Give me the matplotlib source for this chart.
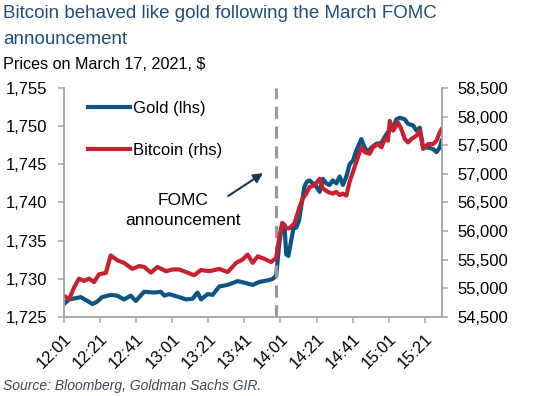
import matplotlib
matplotlib.use('Agg')
import matplotlib.pyplot as plt
from matplotlib.lines import Line2D

plt.rcParams['font.family'] = ['Liberation Sans', 'DejaVu Sans']

# minutes after 12:01
gold_min = [0, 2.8, 9.3, 13, 15.7, 18.3, 21.1, 26, 29.4, 33.3,
            37, 39.8, 44.4, 50, 53.7, 55.6, 58.3, 63.9, 67.6, 71.3,
            74, 76, 79.6, 82.4, 86.1, 90.7, 96.3, 100, 104.6, 108.3,
            113, 115.7, 117.6, 119.4, 121, 122.2, 123.2, 124.4, 126, 127.2,
            128.7, 130.2, 131.5, 133.3, 134.6, 136.1, 138, 139.8, 141.7, 143.5,
            145.4, 147.2, 149, 151, 152.8, 154.6, 156.5, 158.3, 160.2, 162,
            164.8, 166.7, 168.5, 170.4, 173.2, 176, 177.8, 180.6, 182.4, 184.3,
            186.1, 188.9, 190.7, 193.5, 195.4, 197.2, 199.1, 201.8, 204.6, 206.5,
            208.3, 209.3]
gold = [1726.7, 1727.3, 1727.6, 1727.1, 1726.7, 1727.0, 1727.6, 1727.9, 1727.8, 1727.3,
        1727.8, 1727.1, 1728.3, 1728.2, 1728.3, 1727.8, 1728.0, 1727.6, 1727.3, 1727.4,
        1728.2, 1727.3, 1728.0, 1727.9, 1729.0, 1729.2, 1729.7, 1729.5, 1729.2, 1729.6,
        1729.8, 1730.0, 1730.4, 1734.7, 1737.3, 1737.1, 1733.2, 1733.0, 1735.1, 1736.6,
        1736.7, 1737.5, 1739.5, 1742.1, 1742.7, 1742.9, 1742.5, 1742.1, 1741.4, 1743.1,
        1742.5, 1742.3, 1742.9, 1742.5, 1743.4, 1742.3, 1743.4, 1745.0, 1745.5, 1746.8,
        1748.3, 1747.2, 1746.6, 1747.2, 1747.7, 1747.8, 1748.6, 1749.6, 1749.8, 1750.9,
        1751.1, 1750.9, 1750.3, 1750.1, 1749.4, 1749.8, 1747.2, 1747.2, 1747.0, 1746.6,
        1747.2, 1748.1]

btc_min = [0, 2.8, 5.6, 8.3, 11.1, 13.9, 16.7, 19.4, 23.2, 25.9,
           29.6, 33.3, 37.9, 41.7, 44.4, 48.2, 51.8, 56.5, 60.2, 63.9,
           67.6, 72.2, 75.9, 80.6, 86.1, 90.7, 95.4, 99, 101.8, 104.6,
           107.4, 111.1, 114.8, 117.6, 119.4, 121, 123.2, 125, 127.8, 130.6,
           132.4, 134.3, 136.1, 138.9, 141.7, 143.5, 146.3, 149, 151, 152.8,
           154.6, 156.5, 158.3, 162, 164.8, 166.7, 169.4, 171.3, 174.1, 176,
           177.8, 179.6, 180.6, 182.4, 185.2, 187, 188.9, 190.7, 192.6, 195.4,
           197.2, 199.1, 201.8, 204.6, 206.5, 208.3, 209.3]
bitcoin = [54870, 54810, 55015, 55170, 55130, 55170, 55110, 55245, 55270, 55575,
           55490, 55445, 55340, 55390, 55375, 55275, 55375, 55300, 55330, 55330,
           55285, 55230, 55320, 55300, 55340, 55285, 55445, 55505, 55590, 55445,
           55560, 55515, 55460, 55530, 55905, 56140, 56050, 56050, 56140, 56425,
           56570, 56655, 56770, 56800, 56915, 56745, 56685, 56655, 56685, 56630,
           56655, 56620, 56860, 57205, 57465, 57380, 57350, 57465, 57520, 57465,
           57610, 57580, 57925, 57755, 57895, 57780, 57610, 57550, 57610, 57665,
           57755, 57435, 57520, 57520, 57580, 57725, 57780]

tick_min = [0, 20, 40, 60, 80, 100, 120, 140, 160, 180, 200]
tick_labels = ['12:01', '12:21', '12:41', '13:01', '13:21', '13:41',
               '14:01', '14:21', '14:41', '15:01', '15:21']
fomc_min = 117.5

gold_color = '#0b5584'
btc_color = '#c7202e'
spine_color = '#a6a6a6'

fig = plt.figure(figsize=(5.54, 3.96), dpi=100)
ax = fig.add_axes([0.1155, 0.1995, 0.6832, 0.5783])
ax2 = ax.twinx()

ax.plot(gold_min, gold, color=gold_color, lw=3)
ax2.plot(btc_min, bitcoin, color=btc_color, lw=3)
ax.axvline(fomc_min, color='#999999', lw=2.2, dashes=(4, 2.5))

ax.set_xlim(0, 209.8)
ax.set_ylim(1725, 1755)
ax2.set_ylim(54500, 58500)
ax.set_yticks(range(1725, 1756, 5))
ax2.set_yticks(range(54500, 58501, 500))
ax.yaxis.set_major_formatter(matplotlib.ticker.StrMethodFormatter('{x:,.0f}'))
ax2.yaxis.set_major_formatter(matplotlib.ticker.StrMethodFormatter('{x:,.0f}'))
ax.set_xticks(tick_min)
ax.set_xticklabels(tick_labels, rotation=45, ha='right', va='top', rotation_mode='anchor')

for a in (ax, ax2):
    a.spines['top'].set_visible(False)
    for s in ('left', 'right', 'bottom'):
        a.spines[s].set_color(spine_color)
        a.spines[s].set_linewidth(1.1)
    a.tick_params(colors=spine_color, labelcolor='black', labelsize=12, width=1.1, length=4)
ax.tick_params(axis='y', pad=8)
ax2.tick_params(axis='y', pad=7)
ax.tick_params(axis='x', pad=6)

handles = [Line2D([], [], color=gold_color, lw=3), Line2D([], [], color=btc_color, lw=3)]
ax2.legend(handles, ['Gold (lhs)', 'Bitcoin (rhs)'], loc='upper left',
           bbox_to_anchor=(0.025, 1.01), frameon=False, fontsize=12,
           handlelength=2.5, handletextpad=0.15, labelspacing=1.65)

ax2.text(0.315, 0.465, 'FOMC\nannouncement', transform=ax2.transAxes, ha='center',
         va='center', fontsize=12.5, linespacing=1.35)
ax2.annotate('', xy=(0.532, 0.635), xytext=(0.428, 0.522), xycoords='axes fraction',
             arrowprops=dict(arrowstyle='-|>', color='#17375e', lw=1.5, mutation_scale=14))

fig.text(0.005, 0.965, 'Bitcoin behaved like gold following the March FOMC',
         fontsize=13.5, color='#1f4e79', va='center')
fig.text(0.005, 0.9015, 'announcement', fontsize=13.5, color='#1f4e79', va='center')
fig.text(0.005, 0.838, 'Prices on March 17, 2021, $', fontsize=11.6, color='black', va='center')
fig.text(0.005, 0.025, 'Source: Bloomberg, Goldman Sachs GIR.', fontsize=10,
         style='italic', color='#3b4a5a', va='center')

fig.savefig('out.png', dpi=100)
